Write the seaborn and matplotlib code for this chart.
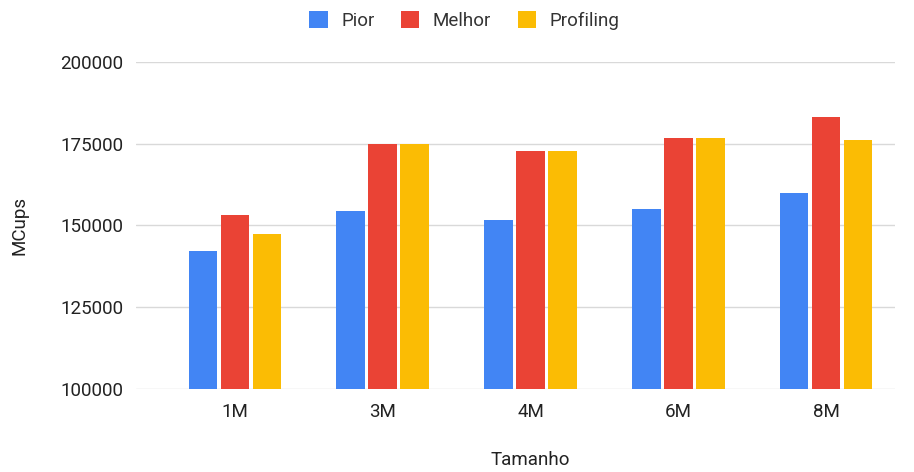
import matplotlib
matplotlib.use("Agg")
import matplotlib.pyplot as plt
from matplotlib.patches import Patch
import seaborn as sns
import pandas as pd

# Data
tamanhos = ["1M", "3M", "4M", "6M", "8M"]
pior = [142100, 154400, 151500, 154900, 159800]
melhor = [153200, 174800, 172700, 176600, 183200]
profiling = [147500, 174800, 172700, 176600, 176200]
series_names = ["Pior", "Melhor", "Profiling"]
colors = ["#4285F4", "#EA4335", "#FBBC04"]
y_ticks = [100000, 125000, 150000, 175000, 200000]

df = pd.DataFrame({
    "Tamanho": tamanhos * 3,
    "MCups": pior + melhor + profiling,
    "Serie": [s for s in series_names for _ in tamanhos],
})

sns.set_theme(style="white")
plt.rcParams["font.family"] = ["Roboto", "DejaVu Sans"]

FS = 13.5
fig = plt.figure(figsize=(9.14, 4.72), dpi=100)
ax = fig.add_axes([0.1488, 0.176, 0.8305, 0.693])

sns.barplot(data=df, x="Tamanho", y="MCups", hue="Serie", order=tamanhos,
            hue_order=series_names, palette=colors, width=0.65, gap=0.1,
            saturation=1, ax=ax, legend=False, edgecolor="none")

ax.set_ylim(100000, 200000)
ax.set_yticks(y_ticks)
ax.set_yticklabels([str(v) for v in y_ticks])
ax.set_xlim(-0.67, 4.467)
ax.grid(axis="y", color="#d9d9d9", linewidth=1)
ax.set_axisbelow(True)
for s in ax.spines.values():
    s.set_visible(False)
ax.tick_params(axis="both", length=0, labelsize=FS, labelcolor="#222222")
ax.tick_params(axis="y", pad=9)
ax.tick_params(axis="x", pad=10)

ax.set_xlabel("Tamanho", fontsize=FS, color="#222222")
ax.xaxis.set_label_coords(0.52, -0.19)
ax.set_ylabel("MCups", fontsize=FS, color="#222222", labelpad=23)

handles = [Patch(facecolor=c, edgecolor="none") for c in colors]
fig.legend(handles, series_names, loc="center", bbox_to_anchor=(0.508, 0.957),
           ncol=3, frameon=False, fontsize=FS, handlelength=1.0,
           handleheight=1.0, handletextpad=0.72, columnspacing=1.4,
           labelcolor="#333333")

fig.savefig("out.png", dpi=100, facecolor="white")
